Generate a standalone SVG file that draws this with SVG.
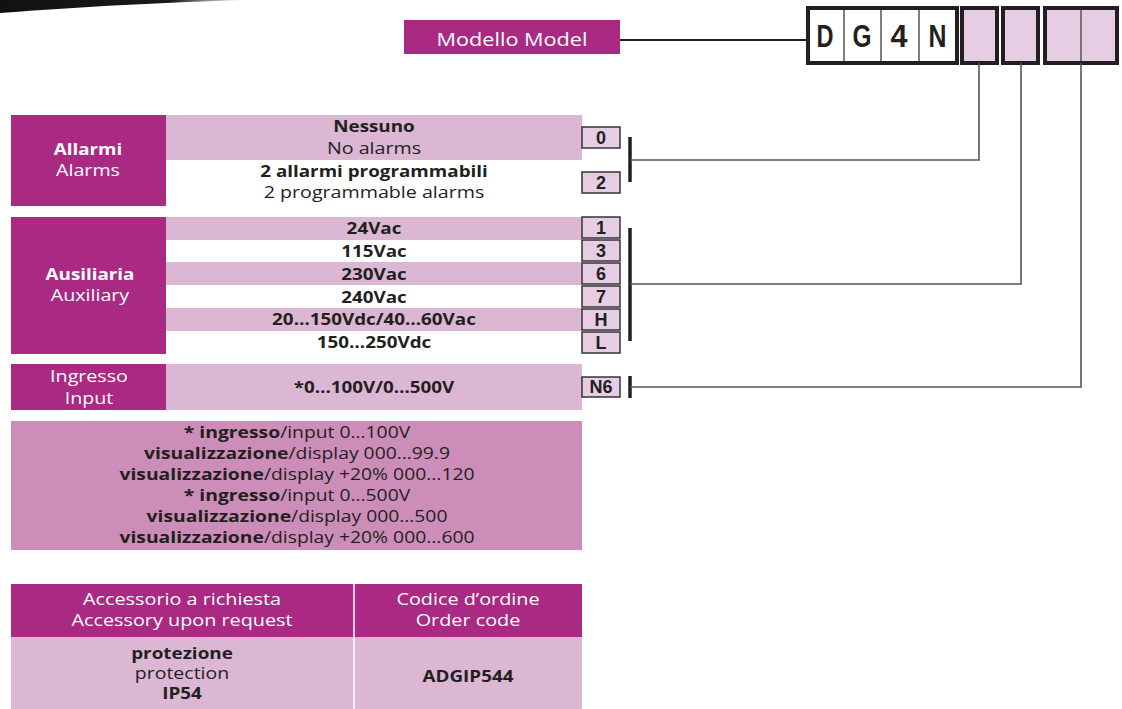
<svg xmlns="http://www.w3.org/2000/svg" width="1122" height="709" viewBox="0 0 1122 709">
<defs>
<linearGradient id="sw" x1="0" y1="0" x2="1" y2="0">
<stop offset="0" stop-color="#111"/>
<stop offset="0.7" stop-color="#1a1a1a"/>
<stop offset="1" stop-color="#fff"/>
</linearGradient>
<style>
.t{font-family:"Open Sans","Liberation Sans",sans-serif;font-size:16.8px;font-weight:500;fill:#231f20;text-anchor:middle}
.b{font-weight:bold}
.w{fill:#fff}
.mag{fill:#a92983}
.pk{fill:#dbb7d4}
.code{fill:#e6cde3;stroke:#333;stroke-width:1.5}
.ct{font-family:"Liberation Sans",Arial,sans-serif;font-size:18px;font-weight:bold;fill:#231f20;text-anchor:middle}
.big{font-family:"Liberation Sans",Arial,sans-serif;font-size:31px;font-weight:bold;fill:#231f20;text-anchor:middle}
.con{fill:none;stroke:#555;stroke-width:1.6}
.bar{stroke:#231f20;stroke-width:3.5}
</style>
</defs>
<rect width="1122" height="709" fill="#fff"/>
<path d="M0,0 L245,0 C170,2 80,7 0,13 Z" fill="url(#sw)"/>

<g id="model">
<rect x="404" y="20" width="216" height="34" class="mag"/>
<text x="512" y="46" class="t w" style="font-size:18px" textLength="151" lengthAdjust="spacingAndGlyphs">Modello  Model</text>
</g>

<g id="code">
<rect x="808" y="8" width="149" height="55" fill="#fff" stroke="#231f20" stroke-width="4"/>
<line x1="844" y1="10" x2="844" y2="61" stroke="#555" stroke-width="1.5"/>
<line x1="881" y1="10" x2="881" y2="61" stroke="#555" stroke-width="1.5"/>
<line x1="919" y1="10" x2="919" y2="61" stroke="#555" stroke-width="1.5"/>
<text x="825" y="47" class="big" textLength="17" lengthAdjust="spacingAndGlyphs">D</text>
<text x="862" y="47" class="big" textLength="19" lengthAdjust="spacingAndGlyphs">G</text>
<text x="899" y="47" class="big" textLength="17" lengthAdjust="spacingAndGlyphs">4</text>
<text x="937.5" y="47" class="big" textLength="18" lengthAdjust="spacingAndGlyphs">N</text>
<rect x="962" y="8" width="35" height="55" fill="#e6cde3" stroke="#231f20" stroke-width="4"/>
<rect x="1003" y="8" width="35" height="55" fill="#e6cde3" stroke="#231f20" stroke-width="4"/>
<rect x="1045" y="8" width="72" height="55" fill="#e6cde3" stroke="#231f20" stroke-width="4"/>
<line x1="1081" y1="10" x2="1081" y2="61" stroke="#555" stroke-width="1.5"/>
</g>

<g id="alarms">
<rect x="11" y="115" width="155" height="91" class="mag"/>
<rect x="166" y="115" width="416" height="45" class="pk"/>
<text transform="matrix(1.12 0 0 1 88 155)" class="t w b">Allarmi</text>
<text transform="matrix(1.17 0 0 1 88 176)" class="t w">Alarms</text>
<text transform="matrix(1.12 0 0 1 374 132)" class="t b">Nessuno</text>
<text transform="matrix(1.17 0 0 1 374 154)" class="t">No alarms</text>
<text transform="matrix(1.12 0 0 1 374 177)" class="t b">2 allarmi programmabili</text>
<text transform="matrix(1.17 0 0 1 374 198)" class="t">2 programmable alarms</text>
<rect x="582" y="127" width="38" height="21" class="code"/>
<text x="601" y="144" class="ct">0</text>
<rect x="582" y="172" width="38" height="21" class="code"/>
<text x="601" y="189" class="ct">2</text>
<line x1="630" y1="137" x2="630" y2="182" class="bar"/>
</g>

<g id="auxiliary">
<rect x="11" y="217" width="155" height="137" class="mag"/>
<rect x="166" y="217" width="416" height="23" class="pk"/>
<rect x="166" y="262" width="416" height="23" class="pk"/>
<rect x="166" y="308" width="416" height="23" class="pk"/>
<text transform="matrix(1.12 0 0 1 90 280)" class="t w b">Ausiliaria</text>
<text transform="matrix(1.17 0 0 1 90 301)" class="t w">Auxiliary</text>
<text transform="matrix(1.12 0 0 1 374 234)" class="t b">24Vac</text>
<text transform="matrix(1.12 0 0 1 374 257)" class="t b">115Vac</text>
<text transform="matrix(1.12 0 0 1 374 280)" class="t b">230Vac</text>
<text transform="matrix(1.12 0 0 1 374 303)" class="t b">240Vac</text>
<text transform="matrix(1.12 0 0 1 374 325)" class="t b">20…150Vdc/40…60Vac</text>
<text transform="matrix(1.12 0 0 1 374 348)" class="t b">150…250Vdc</text>
<rect x="582" y="217" width="38" height="21" class="code"/>
<text x="601" y="234" class="ct">1</text>
<rect x="582" y="240" width="38" height="21" class="code"/>
<text x="601" y="257" class="ct">3</text>
<rect x="582" y="263" width="38" height="21" class="code"/>
<text x="601" y="280" class="ct">6</text>
<rect x="582" y="286" width="38" height="21" class="code"/>
<text x="601" y="303" class="ct">7</text>
<rect x="582" y="309" width="38" height="21" class="code"/>
<text x="601" y="326" class="ct">H</text>
<rect x="582" y="332" width="38" height="21" class="code"/>
<text x="601" y="349" class="ct">L</text>
<line x1="630" y1="228" x2="630" y2="341" class="bar"/>
</g>

<g id="input">
<rect x="11" y="364" width="155" height="46" class="mag"/>
<rect x="166" y="364" width="416" height="46" class="pk"/>
<text transform="matrix(1.17 0 0 1 89 382)" class="t w">Ingresso</text>
<text transform="matrix(1.17 0 0 1 89 404)" class="t w">Input</text>
<text transform="matrix(1.12 0 0 1 374 393)" class="t b">*0…100V/0…500V</text>
<rect x="582" y="377" width="38" height="20" class="code"/>
<text x="601" y="393" class="ct">N6</text>
<line x1="630" y1="376" x2="630" y2="398" class="bar"/>
</g>

<g id="notes">
<rect x="11" y="421" width="571" height="129" fill="#cc8eb9"/>
<text transform="matrix(1.15 0 0 1 297 438)" class="t"><tspan class="b">* ingresso</tspan>/input 0…100V</text>
<text transform="matrix(1.15 0 0 1 297 459)" class="t"><tspan class="b">visualizzazione</tspan>/display 000…99.9</text>
<text transform="matrix(1.15 0 0 1 297 480)" class="t"><tspan class="b">visualizzazione</tspan>/display +20% 000...120</text>
<text transform="matrix(1.15 0 0 1 297 501)" class="t"><tspan class="b">* ingresso</tspan>/input 0…500V</text>
<text transform="matrix(1.15 0 0 1 297 522)" class="t"><tspan class="b">visualizzazione</tspan>/display 000…500</text>
<text transform="matrix(1.15 0 0 1 297 543)" class="t"><tspan class="b">visualizzazione</tspan>/display +20% 000...600</text>
</g>

<g id="accessory">
<rect x="11" y="584" width="571" height="53" class="mag"/>
<rect x="11" y="637" width="571" height="72" class="pk"/>
<line x1="354" y1="584" x2="354" y2="709" stroke="#fff" stroke-width="1.5"/>
<text transform="matrix(1.18 0 0 1 182 605)" class="t w">Accessorio a richiesta</text>
<text transform="matrix(1.18 0 0 1 182 626)" class="t w">Accessory upon request</text>
<text transform="matrix(1.18 0 0 1 468 605)" class="t w">Codice d’ordine</text>
<text transform="matrix(1.18 0 0 1 468 626)" class="t w">Order code</text>
<text transform="matrix(1.18 0 0 1 182 659)" class="t b" style="font-size:16px">protezione</text>
<text transform="matrix(1.22 0 0 1 182 679)" class="t" style="font-size:16px">protection</text>
<text transform="matrix(1.18 0 0 1 182 699)" class="t b" style="font-size:16px">IP54</text>
<text transform="matrix(1.12 0 0 1 468 682)" class="t b">ADGIP544</text>
</g>

<g id="connectors">
<line x1="620" y1="40" x2="808" y2="40" stroke="#231f20" stroke-width="2"/>
<polyline points="979,63 979,160 630,160" class="con"/>
<polyline points="1021,63 1021,284 630,284" class="con"/>
<polyline points="1081,63 1081,387 630,387" class="con"/>
</g>
</svg>
